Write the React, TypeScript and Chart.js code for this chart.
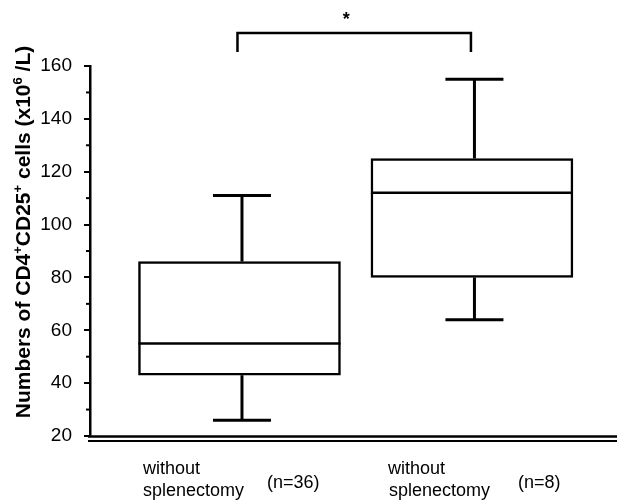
import React, { useEffect, useRef } from 'react';
import { Chart, registerables } from 'chart.js';

Chart.register(...registerables);

// ---- data ----
const groupLine1 = ['without', 'without'];
const groupLine2 = ['splenectomy', 'splenectomy'];
const groupN = ['(n=36)', '(n=8)'];
const groupX = [1, 2];
const whiskerLow = [26, 64];
const q1 = [43, 80];
const median = [55, 112];
const q3 = [86, 125];
const whiskerHigh = [111, 155];
const yMin = 20;
const yMax = 160;
const yStep = 20;
const yMinorTicks = [30, 50, 70, 90, 110, 130, 150];
const significance = '*';
const titleParts: [string, boolean][] = [
  ['Numbers of CD4', false],
  ['+', true],
  ['CD25', false],
  ['+', true],
  [' cells (x10', false],
  ['6', true],
  [' /L)', false],
];

const FONT = '"Liberation Sans", Arial, Helvetica, sans-serif';

const boxPlugin = {
  id: 'boxExtras',
  afterDraw(chart: any) {
    const ctx = chart.ctx;
    const xs = chart.scales.x;
    const ys = chart.scales.y;
    const area = chart.chartArea;
    const meta = chart.getDatasetMeta(0);
    ctx.save();
    ctx.strokeStyle = '#000';
    ctx.fillStyle = '#000';
    ctx.lineCap = 'butt';
    const line = (x1: number, y1: number, x2: number, y2: number, w: number) => {
      ctx.lineWidth = w;
      ctx.beginPath();
      ctx.moveTo(x1, y1);
      ctx.lineTo(x2, y2);
      ctx.stroke();
    };
    const capHalf = 29;
    meta.data.forEach((bar: any, i: number) => {
      const cx = xs.getPixelForValue(groupX[i]);
      const half = bar.width / 2;
      const yMed = ys.getPixelForValue(median[i]);
      line(cx - half, yMed, cx + half, yMed, 2.5);
      const yQ3 = ys.getPixelForValue(q3[i]);
      const yHi = ys.getPixelForValue(whiskerHigh[i]);
      const yQ1 = ys.getPixelForValue(q1[i]);
      const yLo = ys.getPixelForValue(whiskerLow[i]);
      const wx = cx + 2.5;
      line(wx, yQ3, wx, yHi, 3);
      line(wx - capHalf, yHi, wx + capHalf, yHi, 3);
      line(wx, yQ1, wx, yLo, 3);
      line(wx - capHalf, yLo, wx + capHalf, yLo, 3);
    });

    // minor ticks
    yMinorTicks.forEach((v) => {
      const yy = ys.getPixelForValue(v);
      line(area.left - 4, yy, area.left, yy, 2);
    });

    // double baseline
    line(area.left - 2, area.bottom + 0.5, chart.width, area.bottom + 0.5, 2.5);
    line(area.left - 2, area.bottom + 5, chart.width, area.bottom + 5, 2);

    // significance bracket
    const b1 = xs.getPixelForValue(groupX[0]) - 2;
    const b2 = xs.getPixelForValue(groupX[1]) - 1;
    const by = 33;
    ctx.lineWidth = 2.5;
    ctx.beginPath();
    ctx.moveTo(b1, 52);
    ctx.lineTo(b1, by);
    ctx.lineTo(b2, by);
    ctx.lineTo(b2, 52);
    ctx.stroke();
    ctx.font = `bold 18px ${FONT}`;
    ctx.textAlign = 'center';
    ctx.textBaseline = 'alphabetic';
    ctx.fillText(significance, (b1 + b2) / 2 - 8, 25);

    // x labels
    ctx.font = `18px ${FONT}`;
    ctx.textAlign = 'left';
    const offs = [
      { a: -96.5, b: -96.5, n: 27.5 },
      { a: -84, b: -83, n: 46 },
    ];
    groupX.forEach((gx, i) => {
      const cx = xs.getPixelForValue(gx);
      const o = offs[i];
      ctx.fillText(groupLine1[i], cx + o.a, 474);
      ctx.fillText(groupLine2[i], cx + o.b, 496);
      ctx.fillText(groupN[i], cx + o.n, 488);
    });

    // y title (rotated, with superscripts)
    const mainFont = `bold 21px ${FONT}`;
    const supFont = `bold 13px ${FONT}`;
    let total = 0;
    titleParts.forEach(([t, sup]) => {
      ctx.font = sup ? supFont : mainFont;
      total += ctx.measureText(t).width;
    });
    const centerY = 232;
    ctx.translate(30, centerY);
    ctx.rotate(-Math.PI / 2);
    let pos = -total / 2;
    titleParts.forEach(([t, sup]) => {
      ctx.font = sup ? supFont : mainFont;
      ctx.fillText(t, pos, sup ? -8 : 0);
      pos += ctx.measureText(t).width;
    });
    ctx.restore();
  },
};

export default function App() {
  const ref = useRef<HTMLCanvasElement | null>(null);
  useEffect(() => {
    document.body.style.margin = '0';
    const canvas = ref.current;
    if (!canvas) return;
    const chart = new Chart(canvas, {
      type: 'bar',
      data: {
        datasets: [
          {
            data: groupX.map((gx, i) => ({ x: gx, y: [q1[i], q3[i]] })) as any,
            backgroundColor: '#fff',
            borderColor: '#000',
            borderWidth: 2.5,
            borderSkipped: false,
            barThickness: 202,
          },
        ],
      },
      options: {
        responsive: false,
        animation: false,
        devicePixelRatio: 1,
        layout: { padding: { top: 66, bottom: 67, left: 0, right: 0 } },
        plugins: { legend: { display: false }, tooltip: { enabled: false }, title: { display: false } },
        scales: {
          x: {
            type: 'linear',
            display: false,
            offset: false,
            min: 0.357,
            max: 2.624,
          },
          y: {
            min: yMin,
            max: yMax,
            afterFit: (scale: any) => {
              scale.width = 90;
            },
            ticks: {
              stepSize: yStep,
              color: '#000',
              padding: 12,
              font: { family: FONT, size: 19 },
            },
            grid: {
              drawOnChartArea: false,
              drawTicks: true,
              tickLength: 6,
              color: '#000',
              lineWidth: 2,
            },
            border: { display: true, color: '#000', width: 2.5 },
          },
        },
      },
      plugins: [boxPlugin],
    });
    return () => chart.destroy();
  }, []);
  return <canvas ref={ref} width={617} height={503} style={{ display: 'block' }} />;
}
